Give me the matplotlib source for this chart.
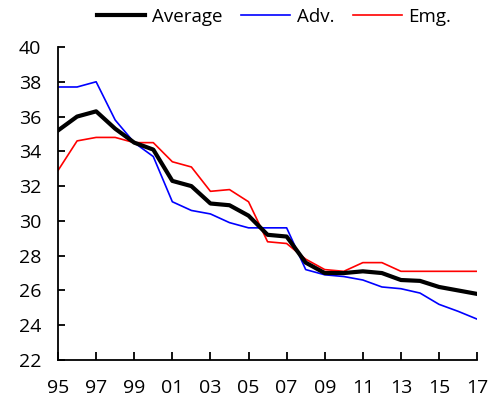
import matplotlib.pyplot as plt

plt.rcParams['font.family'] = ['Open Sans', 'DejaVu Sans']

years = list(range(1995, 2018))
average = [35.2, 36.0, 36.3, 35.3, 34.5, 34.1, 32.3, 32.0, 31.0, 30.9, 30.3, 29.2, 29.1,
           27.6, 27.0, 27.0, 27.1, 27.0, 26.6, 26.55, 26.2, 26.0, 25.8]
adv = [37.7, 37.7, 38.0, 35.8, 34.5, 33.7, 31.1, 30.6, 30.4, 29.9, 29.6, 29.6, 29.6,
       27.2, 26.9, 26.8, 26.6, 26.2, 26.1, 25.85, 25.2, 24.8, 24.35]
emg = [32.9, 34.6, 34.8, 34.8, 34.5, 34.5, 33.4, 33.1, 31.7, 31.8, 31.1, 28.8, 28.7,
       27.8, 27.2, 27.1, 27.6, 27.6, 27.1, 27.1, 27.1, 27.1, 27.1]
xticks = list(range(1995, 2018, 2))
xtick_labels = [f"{y % 100:02d}" for y in xticks]
yticks = list(range(22, 41, 2))

fig = plt.figure(figsize=(4.96, 4.0), dpi=100)
ax = fig.add_axes([0.117, 0.1, 0.845, 0.7825])

ax.plot(years, average, color="black", lw=3.0, label="Average", zorder=3)
ax.plot(years, adv, color="#0000ff", lw=1.2, label="Adv.")
ax.plot(years, emg, color="#ff0000", lw=1.2, label="Emg.")

ax.set_xlim(1995, 2017)
ax.set_ylim(22, 40)
ax.set_xticks(xticks)
ax.set_xticklabels(xtick_labels)
ax.set_yticks(yticks)

for s in ["top", "right"]:
    ax.spines[s].set_visible(False)
for s in ["left", "bottom"]:
    ax.spines[s].set_linewidth(1.3)

ax.tick_params(axis="x", direction="in", length=6, width=1.3, pad=14, labelsize=14)
ax.tick_params(axis="y", direction="in", length=5, width=1.3, pad=12, labelsize=14)

ax.legend(loc="center", bbox_to_anchor=(0.515, 1.096), ncol=3, frameon=False,
          fontsize=13.5, handlelength=2.6, handletextpad=0.35, columnspacing=1.0,
          borderaxespad=0)

fig.savefig("out.png", dpi=100)
